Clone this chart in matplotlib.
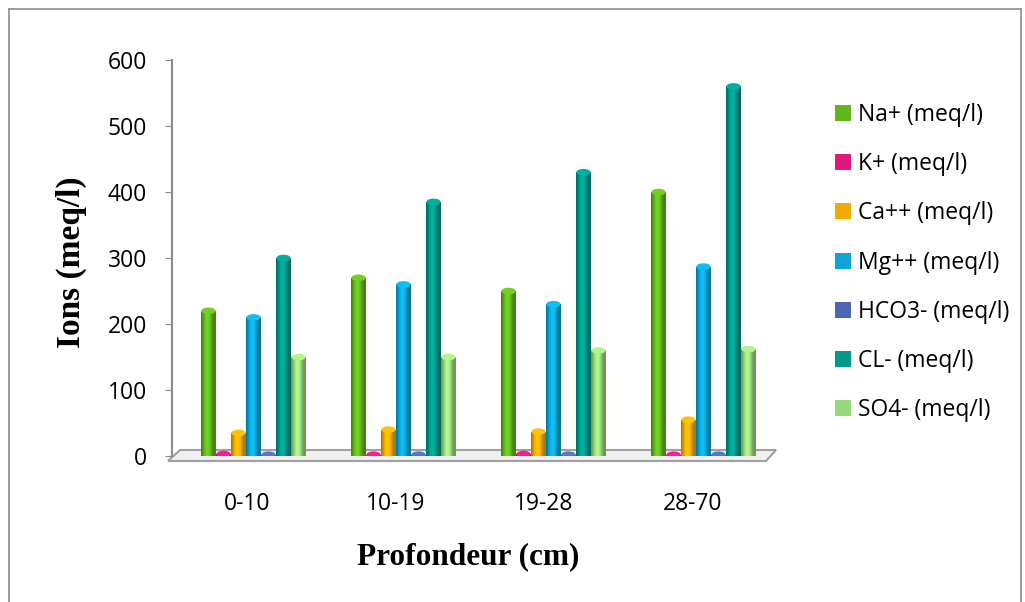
import numpy as np
import matplotlib

matplotlib.use("Agg")
import matplotlib.pyplot as plt
from matplotlib.colors import to_rgb
from matplotlib.lines import Line2D
from matplotlib.patches import Ellipse, Polygon

depths = ["0-10", "10-19", "19-28", "28-70"]
ions = ["Na+ (meq/l)", "K+ (meq/l)", "Ca++ (meq/l)", "Mg++ (meq/l)",
        "HCO3- (meq/l)", "CL- (meq/l)", "SO4- (meq/l)"]
na = [220, 270, 250, 400]
k = [3, 2, 3, 2]
ca = [35, 40, 37, 55]
mg = [210, 260, 230, 287]
hco3 = [2, 2, 2, 2]
cl = [300, 385, 430, 560]
so4 = [150, 150, 160, 162]
series = [na, k, ca, mg, hco3, cl, so4]
colors = ["#62b51c", "#e0187a", "#f2a900", "#0ba6d6", "#4b66b2", "#00998a", "#98d67a"]

plt.rcParams["font.family"] = ["Open Sans", "DejaVu Sans"]

W, H = 1025, 602
AX_L, AX_R, AX_B, AX_T = 172, 770, 456, 60  # pixel box of the plot area

fig = plt.figure(figsize=(W / 100, H / 100), dpi=100)
ax = fig.add_axes([AX_L / W, (H - AX_B) / H, (AX_R - AX_L) / W, (AX_B - AX_T) / H])

x = np.arange(len(depths))
step = 0.1
width = 0.095


def shade(c):
    r, g, b = to_rgb(c)
    t = np.linspace(0, 1, 64)
    f = 0.72 + 0.45 * np.sin(np.pi * np.clip(t * 1.15, 0, 1)) ** 1.5
    rgb = np.stack([np.clip(r * f, 0, 1), np.clip(g * f, 0, 1), np.clip(b * f, 0, 1)], axis=-1)
    return rgb[np.newaxis, :, :]


handles = []
for i, (vals, col) in enumerate(zip(series, colors)):
    bars = ax.bar(x + (i - 3) * step, vals, width, color=col, zorder=3, label=ions[i])
    handles.append(bars[0])
    for p in bars:
        x0, y0 = p.get_x(), p.get_y()
        w, h = p.get_width(), p.get_height()
        img = ax.imshow(shade(col), extent=[x0, x0 + w, y0, y0 + h], aspect="auto",
                        zorder=4, interpolation="bilinear")
        img.set_clip_path(p)
        r, g, b = to_rgb(col)
        ax.add_patch(Ellipse((x0 + w / 2, y0 + h), w, 10, zorder=5,
                             facecolor=(min(1, r * 1.15), min(1, g * 1.15), min(1, b * 1.15)),
                             edgecolor="none"))

ax.set_xlim((AX_L - 253.5) / 150, (AX_R - 253.5) / 150)
ax.set_ylim(0, 600)
ax.set_yticks(np.arange(0, 601, 100))
ax.set_xticks(x * 0.99 - 0.045, depths)
ax.tick_params(axis="x", length=0, pad=26, labelsize=16.5)
ax.tick_params(axis="y", length=5, color="#8c8c8c", labelsize=16.5, pad=13)
for s in ["top", "right", "bottom"]:
    ax.spines[s].set_visible(False)
ax.spines["left"].set_color("#8c8c8c")
ax.spines["left"].set_linewidth(1.5)


# floor slab, given in pixels relative to the plot area
def pt(px, py):
    return ((px - AX_L) / (AX_R - AX_L), (AX_B - py) / (AX_B - AX_T))


floor = Polygon([pt(180, 450), pt(776, 450), pt(766, 461), pt(168, 461)],
                closed=True, transform=ax.transAxes, facecolor="#f0f0f0",
                edgecolor="#a0a0a0", linewidth=1.5, clip_on=False, zorder=1)
ax.add_patch(floor)

fig.text(71 / W, 1 - 262 / H, "Ions (meq/l)", rotation=90, ha="center", va="center",
         fontsize=24, fontweight="bold", family=["Liberation Serif", "DejaVu Serif"])
fig.text(468 / W, 1 - 557 / H, "Profondeur (cm)", ha="center", va="center",
         fontsize=22.5, fontweight="bold", family=["Liberation Serif", "DejaVu Serif"])

fig.legend(handles, ions, loc="upper left", bbox_to_anchor=(835 / W, 1 - 103 / H),
           frameon=False, fontsize=16.5, labelspacing=1.1, handlelength=0.7,
           handleheight=0.7, handletextpad=0.3, borderpad=0, borderaxespad=0)

for xs, ys in [([9 / W, 9 / W], [0, 1 - 9 / H]),
               ([9 / W, 1021 / W], [1 - 9 / H, 1 - 9 / H]),
               ([1021 / W, 1021 / W], [1 - 9 / H, 0])]:
    fig.add_artist(Line2D(xs, ys, color="#8c8c8c", linewidth=1.2))

fig.savefig("out.png", dpi=100)
